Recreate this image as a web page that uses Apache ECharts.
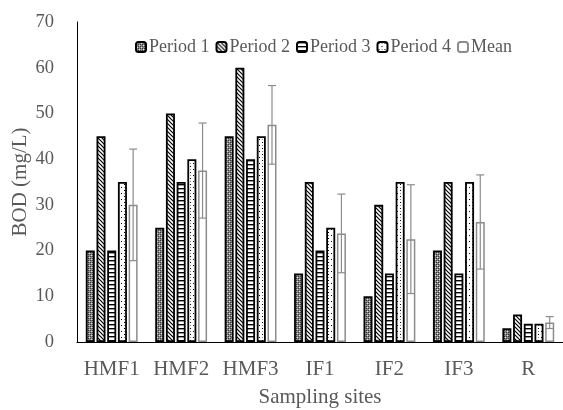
<!DOCTYPE html>
<html>
<head>
<meta charset="utf-8">
<script src="https://cdn.jsdelivr.net/npm/echarts@6/dist/echarts.min.js"></script>
<style>
html,body{margin:0;padding:0;background:#fff;}
#chart{width:563px;height:410px;}
</style>
</head>
<body>
<div id="chart"></div>
<script>
var categories = ['HMF1', 'HMF2', 'HMF3', 'IF1', 'IF2', 'IF3', 'R'];
var seriesNames = ['Period 1', 'Period 2', 'Period 3', 'Period 4', 'Mean'];
var period1 = [20, 25, 45, 15, 10, 20, 3];
var period2 = [45, 50, 60, 35, 30, 35, 6];
var period3 = [20, 35, 40, 20, 15, 15, 4];
var period4 = [35, 40, 45, 25, 35, 35, 4];
var meanVals = [30, 37.5, 47.5, 23.75, 22.5, 26.25, 4.25];
var meanErr = [12.2, 10.4, 8.6, 8.6, 11.9, 10.3, 1.3];
var yTicks = [0, 10, 20, 30, 40, 50, 60, 70];

function makePattern(w, h, draw) {
  var c = document.createElement('canvas');
  c.width = w; c.height = h;
  var ctx = c.getContext('2d');
  ctx.fillStyle = '#fff';
  ctx.fillRect(0, 0, w, h);
  draw(ctx);
  return { image: c, repeat: 'repeat' };
}
var pat1 = makePattern(4, 4, function (ctx) {
  ctx.fillStyle = '#8a8a8a';
  ctx.fillRect(0, 0, 4, 4);
  ctx.fillStyle = '#333';
  ctx.fillRect(0, 0, 1, 1); ctx.fillRect(2, 2, 1, 1);
  ctx.fillRect(2, 0, 1, 1); ctx.fillRect(0, 2, 1, 1);
  ctx.fillStyle = '#e0e0e0';
  ctx.fillRect(1, 1, 1, 1); ctx.fillRect(3, 3, 1, 1);
});
var pat2 = makePattern(4, 4, function (ctx) {
  ctx.strokeStyle = '#000';
  ctx.lineWidth = 1.2;
  ctx.beginPath();
  ctx.moveTo(-1, -1); ctx.lineTo(5, 5);
  ctx.moveTo(-1, 3); ctx.lineTo(1, 5);
  ctx.moveTo(3, -1); ctx.lineTo(5, 1);
  ctx.stroke();
});
var pat3 = makePattern(4, 4, function (ctx) {
  ctx.fillStyle = '#000';
  ctx.fillRect(0, 0, 4, 1.4);
});
var pat4 = makePattern(6, 6, function (ctx) {
  ctx.fillStyle = '#000';
  ctx.fillRect(1, 1, 1, 1);
  ctx.fillRect(4, 4, 1, 1);
  ctx.fillStyle = '#888';
  ctx.fillRect(4, 1, 1, 1);
});

var barW = 9;
var gapRatio = 0.19;
var textColor = '#595959';
var serifFont = '"Liberation Serif", "Times New Roman", serif';

function barSeries(name, data, fill) {
  return {
    name: name,
    type: 'bar',
    data: data,
    barWidth: barW,
    barGap: (gapRatio * 100) + '%',
    itemStyle: { color: fill, borderColor: '#000', borderWidth: 1.8 },
    emphasis: { disabled: true }
  };
}

var errData = categories.map(function (c, i) {
  return [i, meanVals[i] - meanErr[i], meanVals[i] + meanErr[i]];
});

var chart = echarts.init(document.getElementById('chart'), null, { renderer: 'canvas' });
chart.setOption({
  animation: false,
  backgroundColor: '#fff',
  textStyle: { fontFamily: serifFont },
  grid: { left: 77, right: 0, top: 22, bottom: 68, containLabel: false, outerBoundsMode: 'none' },
  legend: {
    data: seriesNames,
    top: 33,
    left: 130,
    itemWidth: 10,
    itemHeight: 10,
    itemGap: 6,
    textStyle: { fontFamily: serifFont, fontSize: 18, color: textColor, padding: [0, 0, 0, -2] },
    selectedMode: false
  },
  xAxis: {
    type: 'category',
    data: categories,
    name: 'Sampling sites',
    nameLocation: 'middle',
    nameGap: 45,
    nameMoveOverlap: false,
    nameTextStyle: { fontFamily: serifFont, fontSize: 21, color: textColor },
    axisLine: { lineStyle: { color: '#000', width: 1 } },
    axisTick: { show: false },
    axisLabel: { interval: 0, fontFamily: serifFont, fontSize: 21, color: textColor, margin: 17 }
  },
  yAxis: {
    type: 'value',
    min: yTicks[0],
    max: yTicks[yTicks.length - 1],
    interval: yTicks[1] - yTicks[0],
    name: 'BOD (mg/L)',
    nameLocation: 'middle',
    nameGap: 46,
    nameMoveOverlap: false,
    nameTextStyle: { fontFamily: serifFont, fontSize: 21, color: textColor },
    axisLine: { show: true, lineStyle: { color: '#000', width: 1 } },
    axisTick: { show: false },
    splitLine: { show: false },
    axisLabel: { fontFamily: serifFont, fontSize: 18.5, color: textColor, margin: 23 }
  },
  series: [
    barSeries('Period 1', period1, pat1),
    barSeries('Period 2', period2, pat2),
    barSeries('Period 3', period3, pat3),
    barSeries('Period 4', period4, pat4),
    {
      name: 'Mean',
      type: 'bar',
      data: meanVals,
      barWidth: barW,
      barGap: (gapRatio * 100) + '%',
      itemStyle: { color: '#fff', borderColor: '#8c8c8c', borderWidth: 1.5 },
      emphasis: { disabled: true }
    },
    {
      name: 'err',
      type: 'custom',
      data: errData,
      z: 10,
      silent: true,
      renderItem: function (params, api) {
        var idx = api.value(0);
        var lo = api.coord([idx, api.value(1)]);
        var hi = api.coord([idx, api.value(2)]);
        var offset = 2 * barW * (1 + gapRatio);
        var x = lo[0] + offset;
        var half = 4;
        var style = { stroke: '#8c8c8c', lineWidth: 1.2, fill: null };
        return {
          type: 'group',
          children: [
            { type: 'line', shape: { x1: x, y1: lo[1], x2: x, y2: hi[1] }, style: style },
            { type: 'line', shape: { x1: x - half, y1: lo[1], x2: x + half, y2: lo[1] }, style: style },
            { type: 'line', shape: { x1: x - half, y1: hi[1], x2: x + half, y2: hi[1] }, style: style }
          ]
        };
      }
    }
  ]
});
</script>
</body>
</html>
